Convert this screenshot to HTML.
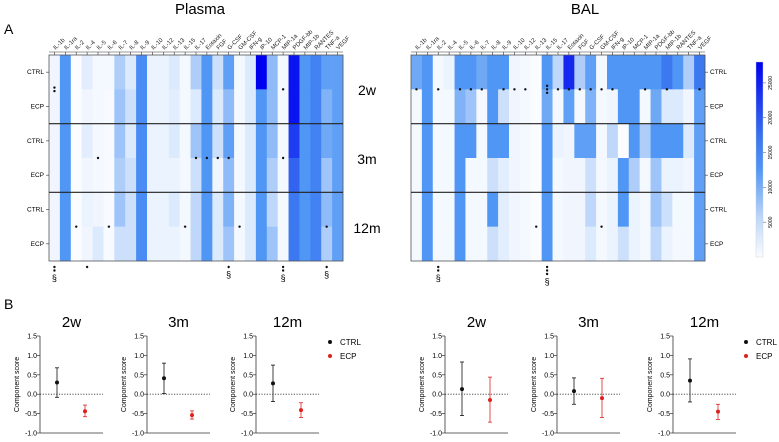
<!DOCTYPE html>
<html><head><meta charset="utf-8"><style>
html,body{margin:0;padding:0;background:#fff;}
svg{display:block;font-family:"Liberation Sans",sans-serif;}
</style></head><body>
<svg id="fig" width="779" height="442" viewBox="0 0 779 442" xmlns="http://www.w3.org/2000/svg">
<text x="200" y="14" font-size="15" text-anchor="middle">Plasma</text>
<text x="585" y="14" font-size="15" text-anchor="middle">BAL</text>
<text x="4" y="34" font-size="14">A</text>
<text x="4" y="309" font-size="14">B</text>
<g id="hm"></g>
<g id="pb"></g>
</svg>
<script>
const cytokines=["IL-1b","IL-1ra","IL-2","IL-4","IL-5","IL-6","IL-7","IL-8","IL-9","IL-10","IL-12","IL-13","IL-15","IL-17","Eotaxin","FGF","G-CSF","GM-CSF","IFN-g","IP-10","MCP-1","MIP-1a","PDGF-bb","MIP-1b","RANTES","TNF-a","VEGF"];
const rowLabels=["CTRL","ECP","CTRL","ECP","CTRL","ECP"];
const timeLabels=["2w","3m","12m"];
// intensity 0..10 per cytokine: [CTRL2w,ECP2w,CTRL3m,ECP3m,CTRL12m,ECP12m]
const plasmaValues=[
[0.3,0.3,0.3,0.3,0.3,0.3],[5.5,5.5,5.5,5.5,5.5,5.5],[0,0,0,0,0,0],[0.8,0.3,0.8,0.3,0.5,0.3],
[0.2,0.2,0.2,0.2,0.3,1],[0.2,0.1,0.1,0.1,0.1,0.1],[2.5,3,3,2.5,3,1.5],[1,1.5,1,1.5,1.5,1.5],
[6,6,6,6,6,6],[0.5,0.5,0.5,0.5,0.5,0.5],[0.5,0.5,0.5,0.5,0.5,0.5],[1,0.8,1,0.5,1,0.5],
[0.2,0.2,0.2,0.2,0.2,0.2],[2.5,1,3,1.5,2,2],[5.5,5.5,5.5,5.5,5.5,5.5],[1.5,1,1.5,0.3,1,1],
[5,3.5,5,3.5,4,3],[0.2,0.2,0.2,0.2,0.2,0.2],[1,1,1,1,1,1],[10,5.5,5.5,5.5,5.5,5.5],
[3.5,3.5,3.5,2.5,2,3],[0.2,0.2,0.2,0.2,0.2,0.2],[9.5,9.5,8.5,7.5,7,7],[5.5,5.5,5.5,5.5,5.5,5.5],
[6.5,6.5,6.5,6.5,6.5,6.5],[5,4,4.5,3,3.5,2.5],[5,5,5,5,5,5]];
const balValues=[
[4.5,0.2,0.2,0.2,0.2,0.2],[5.5,5.5,5.5,5.5,5.5,5.5],[0.2,0.2,0.2,0.2,0.2,0.2],[0.5,0.2,0.2,0.2,0.2,0.2],
[5.5,4,5.5,5.5,5.5,5.5],[5.5,3,5.5,0.2,0.2,0.2],[4.5,0.2,0.2,0.2,0.2,0.2],[5.5,5.5,5.5,1.5,5.5,1.5],
[5.5,1.5,5.5,0.8,0.8,0.8],[0.3,0.3,0.3,0.3,0.3,0.3],[0.2,0.2,0.2,0.2,0.2,0.2],[0,0,0,0,0,0],
[5.5,4.5,5.5,5.5,5.5,5.5],[2,0.2,0.5,0.2,0.2,0.2],[9,5,0.3,0.3,0.3,0.3],[2.5,0.2,5,0.3,0.3,0.3],
[5,4,5,1.5,2,1],[0.2,0.2,0.2,0.2,0.2,0.2],[5.5,0.3,2,0.5,0.5,0.5],[5.5,5.5,0,5.5,5.5,1.5],
[5.5,5.5,5.5,2.5,0.5,0.5],[5.5,0.2,2.5,0.2,0.2,0.2],[5.5,4.5,5.5,3,3,2],[7,1,5.5,0.5,1.5,0.5],
[5.5,1,5.5,0.5,0.2,0.2],[2.5,0.3,1,0.3,0.2,0.2],[7,5,5,5,5,5]];
// significance marks: [timeIndex, cytokineIndex, text]
const plasmaStars=[[0,0,"**"],[0,21,"*"],[1,4,"*"],[1,13,"*"],[1,14,"*"],[1,15,"*"],[1,16,"*"],[1,21,"*"],[2,2,"*"],[2,5,"*"],[2,12,"*"],[2,17,"*"],[2,25,"*"]];
const plasmaBottom=[[0,"**§"],[3,"*"],[16,"*§"],[21,"**§"],[25,"*§"]];
const balStars=[[0,0,"*"],[0,2,"*"],[0,4,"*"],[0,5,"*"],[0,6,"*"],[0,8,"*"],[0,9,"*"],[0,10,"*"],[0,12,"***"],[0,13,"*"],[0,14,"*"],[0,15,"*"],[0,16,"*"],[0,17,"*"],[0,18,"*"],[0,21,"*"],[0,23,"*"],[0,26,"*"],[2,11,"*"],[2,17,"*"]];
const balBottom=[[2,"**§"],[12,"***§"]];
const colorTicks=[5000,10000,15000,20000,25000];
// panel B
const timepoints=["2w","3m","12m"];
const scoreTicks=[-1.0,-0.5,0.0,0.5,1.0,1.5];
const plasmaCtrl=[0.30,0.41,0.28], plasmaCtrlLo=[-0.08,0.02,-0.19], plasmaCtrlHi=[0.68,0.80,0.75];
const plasmaEcp=[-0.44,-0.54,-0.41], plasmaEcpLo=[-0.58,-0.64,-0.60], plasmaEcpHi=[-0.28,-0.43,-0.22];
const balCtrl=[0.13,0.08,0.35], balCtrlLo=[-0.55,-0.26,-0.20], balCtrlHi=[0.83,0.42,0.91];
const balEcp=[-0.15,-0.10,-0.45], balEcpLo=[-0.72,-0.60,-0.65], balEcpHi=[0.44,0.41,-0.26];

const NS="http://www.w3.org/2000/svg";
function mk(tag,attrs,parent,text){const e=document.createElementNS(NS,tag);for(const k in attrs)e.setAttribute(k,attrs[k]);if(text!==undefined)e.textContent=text;parent.appendChild(e);return e;}
function color(v){
  const stops=[[0,[250,252,255]],[2,[190,215,250]],[5.5,[80,150,245]],[7,[60,120,240]],[10,[0,0,240]]];
  for(let i=1;i<stops.length;i++){if(v<=stops[i][0]){const a=stops[i-1],b=stops[i],t=(v-a[0])/(b[0]-a[0]);return "rgb("+a[1].map((c,j)=>Math.round(c+(b[1][j]-c)*t)).join(",")+")";}}
  return "rgb(0,0,240)";
}
const hm=document.getElementById('hm');
function heatmap(x0,y0,w,h,vals,stars,bottom,labelSide,name){
  const g=mk('g',{},hm);
  
  
  const cw=w/cytokines.length, rh=h/6;
  const xs=i=>x0+i*cw, ys=r=>y0+r*rh;
  vals.forEach((col,i)=>col.forEach((v,r)=>{
    const c=mk('rect',{x:xs(i),y:ys(r),width:cw+0.3,height:rh+0.3,fill:color(v)},g);
    
    
  }));
  mk('rect',{x:x0,y:y0,width:w,height:h,fill:'none',stroke:'#555','stroke-width':0.8},g);
  [2,4].forEach(r=>mk('line',{x1:x0,x2:x0+w,y1:ys(r),y2:ys(r),stroke:'#222','stroke-width':1.2},g));
  cytokines.forEach((c,i)=>{
    const cx=xs(i)+cw/2;
    mk('line',{x1:cx,x2:cx,y1:y0-3,y2:y0,stroke:'#333','stroke-width':0.6},g);
    const t=mk('text',{x:cx+1,y:y0-5,'font-size':6,transform:`rotate(-45 ${cx+1} ${y0-5})`,fill:'#222'},g,c);
    
    
  });
  mk('line',{x1:x0,x2:x0+w,y1:y0-3,y2:y0-3,stroke:'#333','stroke-width':0.6},g);
  rowLabels.forEach((l,r)=>{
    const cy=ys(r)+rh/2;
    if(labelSide==='left'){mk('line',{x1:x0-3,x2:x0,y1:cy,y2:cy,stroke:'#333','stroke-width':0.6},g);
      const t=mk('text',{x:x0-5,y:cy+2,'font-size':6.5,'text-anchor':'end'},g,l);}
    else{mk('line',{x1:x0+w,x2:x0+w+3,y1:cy,y2:cy,stroke:'#333','stroke-width':0.6},g);
      const t=mk('text',{x:x0+w+5,y:cy+2,'font-size':6.5},g,l);}
  });
  stars.forEach(s=>{
    const cx=xs(s[1])+cw/2, cy=ys(s[0]*2+1);
    const n=s[2].length;
    for(let k=0;k<n;k++){const st=mk('circle',{cx:cx,cy:cy+(k-(n-1)/2)*3.5,r:1.2,fill:'#111'},g);}
  });
  bottom.forEach(b=>{
    const cx=xs(b[0])+cw/2;const s=b[1];let y=y0+h+6;
    for(const ch of s){
      if(ch==='*'){mk('circle',{cx:cx,cy:y,r:1.2,fill:'#111'},g);y+=3.5;}
      else{const t=mk('text',{x:cx,y:y+7,'font-size':9,'text-anchor':'middle'},g,'§');}
    }
  });
}
heatmap(49,55,294,206,plasmaValues,plasmaStars,plasmaBottom,'left','plasma-heatmap');
heatmap(411,55,294,206,balValues,balStars,balBottom,'right','bal-heatmap');
timeLabels.forEach((t,i)=>{const e=mk('text',{x:367,y:95+i*69,'font-size':14,'text-anchor':'middle'},hm,t);});
// colorbar
const defs=mk('defs',{},hm);
const lg=mk('linearGradient',{id:'cb',x1:0,y1:1,x2:0,y2:0},defs);
[[0,0],[0.2,2],[0.45,5.5],[0.6,7],[1,10]].forEach(s=>mk('stop',{offset:s[0],'stop-color':color(s[1])},lg));
const cb=mk('rect',{x:756,y:62,width:7,height:195,fill:'url(#cb)',stroke:'#ccc','stroke-width':0.4},hm);

colorTicks.forEach(v=>{const y=257-v/28000*195;mk('line',{x1:763,x2:766,y1:y,y2:y,stroke:'#555','stroke-width':0.5},hm);
  const t=mk('text',{x:772,y:y,'font-size':5,'text-anchor':'middle',transform:`rotate(-90 772 ${y})`},hm,v);});

// panel B
const pb=document.getElementById('pb');
const yTop=336, yBot=433;
const ys=v=>yTop+(1.5-v)*(yBot-yTop)/2.5;
function scorePlot(ax,title,c,cl,ch,e,el,eh,name){
  const g=mk('g',{},pb);
  
  
  const w=63;
  mk('text',{x:ax+w/2,y:327,'font-size':15,'text-anchor':'middle'},g,title);
  mk('line',{x1:ax,x2:ax,y1:ys(1.5),y2:ys(-1),stroke:'#333','stroke-width':0.8},g);
  mk('line',{x1:ax,x2:ax+w,y1:ys(-1),y2:ys(-1),stroke:'#333','stroke-width':0.8},g);
  scoreTicks.forEach(v=>{mk('line',{x1:ax-3,x2:ax,y1:ys(v),y2:ys(v),stroke:'#333','stroke-width':0.7},g);
    const t=mk('text',{x:ax-3,y:ys(v)+2.5,'font-size':7,'text-anchor':'end'},g,v.toFixed(1));});
  mk('line',{x1:ax,x2:ax+w,y1:ys(0),y2:ys(0),stroke:'#333','stroke-width':0.8,'stroke-dasharray':'1.2,1.5'},g);
  const yt=mk('text',{x:ax-21,y:ys(0.25),'font-size':7,'text-anchor':'middle',transform:`rotate(-90 ${ax-21} ${ys(0.25)})`},g,'Component score');
  
  [[ax+17,c,cl,ch,'#111','ctrl'],[ax+45,e,el,eh,'#e0201e','ecp']].forEach(p=>{
    mk('line',{x1:p[0],x2:p[0],y1:ys(p[2]),y2:ys(p[3]),stroke:p[4],'stroke-width':0.8},g);
    mk('line',{x1:p[0]-2,x2:p[0]+2,y1:ys(p[2]),y2:ys(p[2]),stroke:p[4],'stroke-width':0.8},g);
    mk('line',{x1:p[0]-2,x2:p[0]+2,y1:ys(p[3]),y2:ys(p[3]),stroke:p[4],'stroke-width':0.8},g);
    const d=mk('circle',{cx:p[0],cy:ys(p[1]),r:2,fill:p[4]},g);
  });
}
const plasmaAx=[40,147,256], balAx=[445,557,673];
timepoints.forEach((t,i)=>{
  scorePlot(plasmaAx[i],t,plasmaCtrl[i],plasmaCtrlLo[i],plasmaCtrlHi[i],plasmaEcp[i],plasmaEcpLo[i],plasmaEcpHi[i],'plasma-score-'+t);
  scorePlot(balAx[i],t,balCtrl[i],balCtrlLo[i],balCtrlHi[i],balEcp[i],balEcpLo[i],balEcpHi[i],'bal-score-'+t);
});
[[330,'plasma'],[746,'bal']].forEach(L=>{
  const g=mk('g',{},pb);
  mk('circle',{cx:L[0],cy:342,r:2,fill:'#111'},g);mk('text',{x:L[0]+10,y:345,'font-size':8},g,'CTRL');
  mk('circle',{cx:L[0],cy:356,r:2,fill:'#e0201e'},g);mk('text',{x:L[0]+10,y:359,'font-size':8},g,'ECP');
});
</script>
</body></html>
